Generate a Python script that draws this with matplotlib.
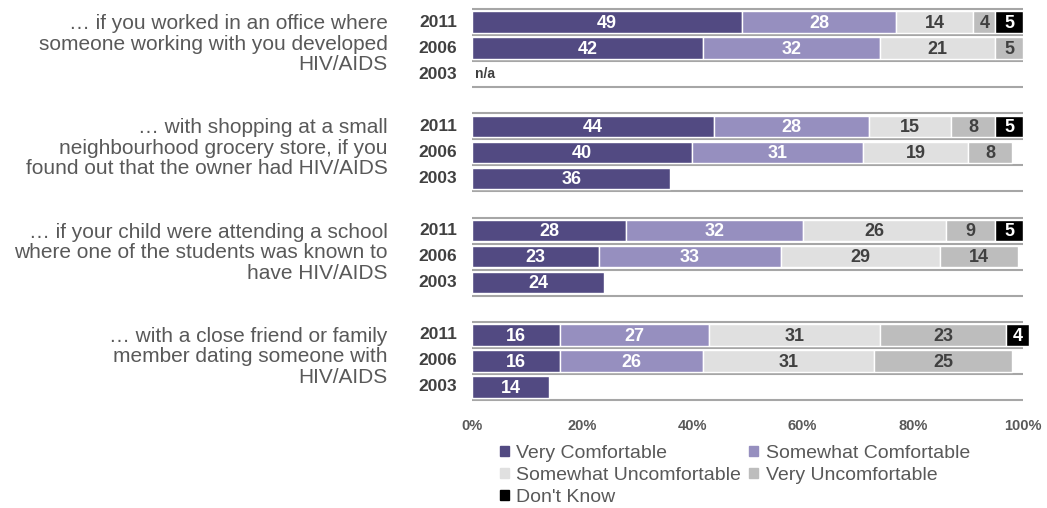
import numpy as np
import matplotlib.pyplot as plt

plt.rcParams['font.family'] = ['Liberation Sans', 'DejaVu Sans']

# survey statements, one per group of bars
questions = [
    "… if you worked in an office where\nsomeone working with you developed\nHIV/AIDS",
    "… with shopping at a small\nneighbourhood grocery store, if you\nfound out that the owner had HIV/AIDS",
    "… if your child were attending a school\nwhere one of the students was known to\nhave HIV/AIDS",
    "… with a close friend or family\nmember dating someone with\nHIV/AIDS",
]
years = ['2011', '2006', '2003']
categories = ['Very Comfortable', 'Somewhat Comfortable', 'Somewhat Uncomfortable',
              'Very Uncomfortable', "Don't Know"]

# percentages per question, rows = 2011, 2006, 2003 (nan = not asked)
very_comf = [[49, 42, np.nan], [44, 40, 36], [28, 23, 24], [16, 16, 14]]
some_comf = [[28, 32, np.nan], [28, 31, np.nan], [32, 33, np.nan], [27, 26, np.nan]]
some_unc = [[14, 21, np.nan], [15, 19, np.nan], [26, 29, np.nan], [31, 31, np.nan]]
very_unc = [[4, 5, np.nan], [8, 8, np.nan], [9, 14, np.nan], [23, 25, np.nan]]
dont_know = [[5, np.nan, np.nan], [5, np.nan, np.nan], [5, np.nan, np.nan], [4, np.nan, np.nan]]

series = [very_comf, some_comf, some_unc, very_unc, dont_know]
colors = ['#524a82', '#968fbf', '#e0e0e0', '#bdbdbd', '#000000']
text_colors = ['white', 'white', '#404040', '#404040', 'white']

fig = plt.figure(figsize=(10.47, 5.08), dpi=100)
ax = fig.add_axes([0.4508, 0.187, 0.5263, 0.8106])

for g in range(len(questions)):
    for r in range(len(years)):
        y = 4 * g + r
        left = 0
        for s, vals in enumerate(series):
            v = vals[g][r]
            if np.isnan(v):
                continue
            ax.barh(y, v, left=left, height=0.82, color=colors[s],
                    edgecolor='white', linewidth=1, clip_on=False, zorder=2)
            ax.text(left + v / 2, y + 0.05, f'{v:g}', ha='center', va='center',
                    color=text_colors[s], fontsize=13, fontweight='bold', zorder=3)
            left += v
        ax.text(-2.7, y, years[r], ha='right', va='center', fontsize=12.5,
                fontweight='bold', color='#404040')
    # separator lines between rows
    for b in range(4):
        ax.axhline(4 * g - 0.5 + b, xmin=0, xmax=1, color='#a6a6a6', lw=1.5, zorder=1)
    ax.text(-15.3, 4 * g + 0.85, questions[g], ha='right', va='center', fontsize=15,
            color='#595959', linespacing=1.1)

ax.text(0.5, 2, 'n/a', ha='left', va='center', fontsize=10, fontweight='bold',
        color='#404040')

ax.set_xlim(0, 100)
ax.set_ylim(15.0, -0.8)
ax.set_yticks([])
ax.set_xticks(np.arange(0, 101, 20))
ax.set_xticklabels([f'{t}%' for t in range(0, 101, 20)], fontsize=10.5,
                   fontweight='bold', color='#595959')
ax.tick_params(axis='x', length=0, pad=4)
for sp in ax.spines.values():
    sp.set_visible(False)

# legend filled row by row across two columns
handles = [plt.Rectangle((0, 0), 1, 1, color=c) for c in colors]
order = [0, 2, 4, 1, 3]
ax.legend([handles[i] for i in order], [categories[i] for i in order],
          loc='upper left', bbox_to_anchor=(0.033, -0.054), ncol=2, frameon=False,
          fontsize=14, labelcolor='#595959', handlelength=0.45, handleheight=0.45,
          handletextpad=0.4, columnspacing=0.4, labelspacing=0.25, borderpad=0)

fig.savefig('out.png', dpi=100)
